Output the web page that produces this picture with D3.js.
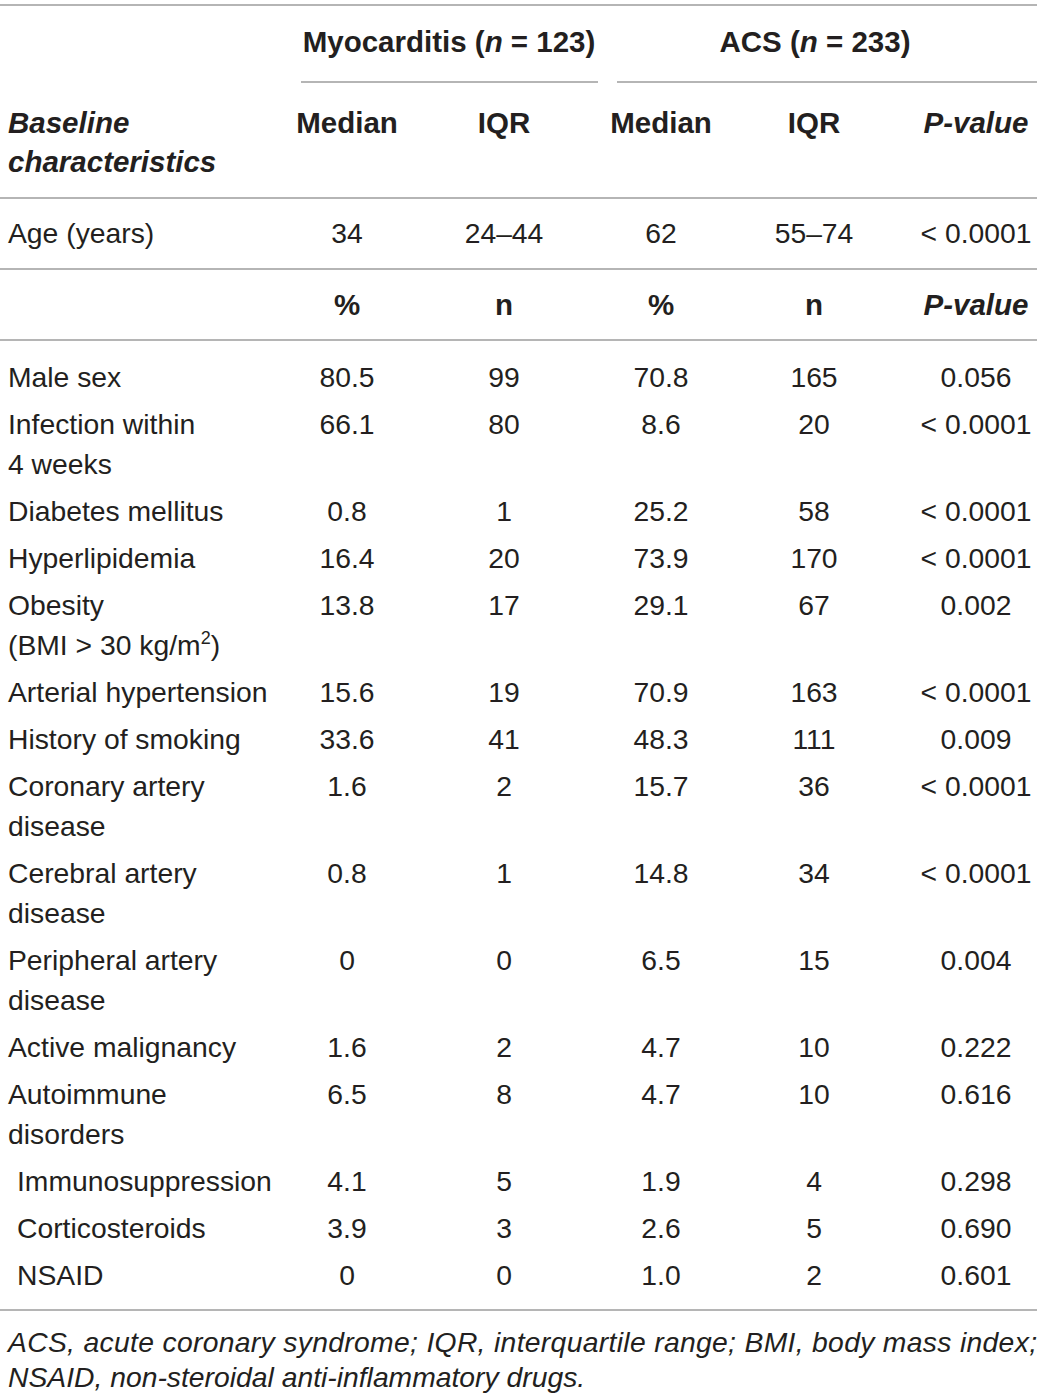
<!DOCTYPE html>
<html>
<head>
<meta charset="utf-8">
<script src="https://cdn.jsdelivr.net/npm/d3@7"></script>
<style>
  body { margin: 0; background: #fff; }
  svg text { font-family: "Liberation Sans", Arial, Helvetica, sans-serif; fill: #231f20; }
</style>
</head>
<body>
<svg id="tbl" width="1042" height="1396"></svg>
<script>
// table data
var groups = ["Myocarditis", "ACS"];
var groupN = [123, 233];
var medianHeader = ["Median", "IQR", "Median", "IQR", "P-value"];
var countHeader = ["%", "n", "%", "n", "P-value"];
var ageRow = ["34", "24\u201344", "62", "55\u201374", "< 0.0001"];

var labels = [
  ["Male sex"],
  ["Infection within", "4 weeks"],
  ["Diabetes mellitus"],
  ["Hyperlipidemia"],
  ["Obesity", "(BMI > 30 kg/m\u00b2)"],
  ["Arterial hypertension"],
  ["History of smoking"],
  ["Coronary artery", "disease"],
  ["Cerebral artery", "disease"],
  ["Peripheral artery", "disease"],
  ["Active malignancy"],
  ["Autoimmune", "disorders"],
  ["Immunosuppression"],
  ["Corticosteroids"],
  ["NSAID"]
];
var subItem = [false, false, false, false, false, false, false, false, false, false, false, false, true, true, true];
var myoPct = ["80.5", "66.1", "0.8", "16.4", "13.8", "15.6", "33.6", "1.6", "0.8", "0", "1.6", "6.5", "4.1", "3.9", "0"];
var myoN = ["99", "80", "1", "20", "17", "19", "41", "2", "1", "0", "2", "8", "5", "3", "0"];
var acsPct = ["70.8", "8.6", "25.2", "73.9", "29.1", "70.9", "48.3", "15.7", "14.8", "6.5", "4.7", "4.7", "1.9", "2.6", "1.0"];
var acsN = ["165", "20", "58", "170", "67", "163", "111", "36", "34", "15", "10", "10", "4", "5", "2"];
var pValues = ["0.056", "< 0.0001", "< 0.0001", "< 0.0001", "0.002", "< 0.0001", "0.009", "< 0.0001", "< 0.0001", "0.004", "0.222", "0.616", "0.298", "0.690", "0.601"];

var footnote = [
  "ACS, acute coronary syndrome; IQR, interquartile range; BMI, body mass index;",
  "NSAID, non-steroidal anti-inflammatory drugs."
];

// layout
var fs = 28.3, fsBold = 29.5;
var ruleColor = "#9d9d9d";
var colKeys = ["myoPct", "myoN", "acsPct", "acsN", "p"];
var x = d3.scaleOrdinal().domain(colKeys).range([347, 504, 661, 814, 976]);
var lineGap = 40, rowGap = 47;

var svg = d3.select("#tbl");

function rule(y, x1, x2) {
  svg.append("line")
    .attr("x1", x1).attr("x2", x2)
    .attr("y1", y).attr("y2", y)
    .attr("stroke", ruleColor).attr("stroke-width", 1.6);
}

// header
rule(5, 0, 1037);
var groupCenters = [449, 815];
groups.forEach(function(g, i) {
  var t = svg.append("text")
    .attr("x", groupCenters[i]).attr("y", 52)
    .attr("text-anchor", "middle")
    .attr("font-weight", "bold").attr("font-size", fsBold);
  t.append("tspan").text(g + " (");
  t.append("tspan").attr("font-style", "italic").text("n");
  t.append("tspan").text(" = " + groupN[i] + ")");
});
rule(82, 301, 598);
rule(82, 617, 1037);

svg.append("text").attr("x", 8).attr("y", 133)
  .attr("font-weight", "bold").attr("font-style", "italic").attr("font-size", fsBold)
  .text("Baseline");
svg.append("text").attr("x", 8).attr("y", 172)
  .attr("font-weight", "bold").attr("font-style", "italic").attr("font-size", fsBold)
  .text("characteristics");

svg.selectAll("text.hdr1").data(medianHeader).enter().append("text")
  .attr("class", "hdr1")
  .attr("x", function(d, i) { return x(colKeys[i]); })
  .attr("y", 133)
  .attr("text-anchor", "middle")
  .attr("font-weight", "bold").attr("font-size", fsBold)
  .attr("font-style", function(d) { return d === "P-value" ? "italic" : null; })
  .text(function(d) { return d; });
rule(198, 0, 1037);

// age row
svg.append("text").attr("x", 8).attr("y", 243).attr("font-size", fs).text("Age (years)");
svg.selectAll("text.age").data(ageRow).enter().append("text")
  .attr("class", "age")
  .attr("x", function(d, i) { return x(colKeys[i]); })
  .attr("y", 243)
  .attr("text-anchor", "middle").attr("font-size", fs)
  .text(function(d) { return d; });
rule(269, 0, 1037);

svg.selectAll("text.hdr2").data(countHeader).enter().append("text")
  .attr("class", "hdr2")
  .attr("x", function(d, i) { return x(colKeys[i]); })
  .attr("y", 315)
  .attr("text-anchor", "middle")
  .attr("font-weight", "bold").attr("font-size", fsBold)
  .attr("font-style", function(d) { return d === "P-value" ? "italic" : null; })
  .text(function(d) { return d; });
rule(340, 0, 1037);

// body rows
var rows = labels.map(function(l, i) {
  return { label: l, sub: subItem[i], myoPct: myoPct[i], myoN: myoN[i], acsPct: acsPct[i], acsN: acsN[i], p: pValues[i] };
});
var yBase = 387;
rows.forEach(function(r) {
  r.y = yBase;
  yBase += rowGap + lineGap * (r.label.length - 1);
});

var g = svg.selectAll("g.row").data(rows).enter().append("g").attr("class", "row");

g.each(function(r) {
  var sel = d3.select(this);
  r.label.forEach(function(line, k) {
    var t = sel.append("text")
      .attr("x", r.sub ? 17 : 8)
      .attr("y", r.y + k * lineGap)
      .attr("font-size", fs);
    var m = line.match(/^(.*m)\u00b2(\))$/);
    if (m) {
      t.append("tspan").text(m[1]);
      t.append("tspan").attr("font-size", 18).attr("dy", -11).text("2");
      t.append("tspan").attr("dy", 11).text(m[2]);
    } else {
      t.text(line);
    }
  });
  colKeys.forEach(function(k) {
    sel.append("text")
      .attr("x", x(k)).attr("y", r.y)
      .attr("text-anchor", "middle").attr("font-size", fs)
      .text(r[k]);
  });
});

rule(1310, 0, 1037);

// footnote
svg.append("text").attr("x", 8).attr("y", 1352)
  .attr("font-size", fs).attr("font-style", "italic")
  .attr("textLength", 1029).attr("lengthAdjust", "spacing")
  .text(footnote[0]);
svg.append("text").attr("x", 8).attr("y", 1387)
  .attr("font-size", fs).attr("font-style", "italic")
  .text(footnote[1]);
</script>
</body>
</html>
